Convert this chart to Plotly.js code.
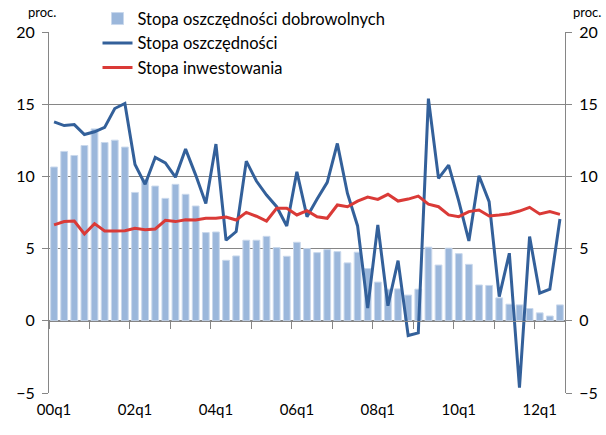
<!DOCTYPE html>
<html>
<head>
<meta charset="utf-8">
<script src="https://cdn.plot.ly/plotly-3.0.1.min.js"></script>
<style>html,body{margin:0;padding:0;background:#fff;}#chart{width:606px;height:435px;}</style>
</head>
<body>
<div id="chart"></div>
<script>
// 2000q1 .. 2012q3 (51 quarters)
const quarters = [];
for (let y = 0; y < 13; y++) for (let q = 1; q <= 4; q++) quarters.push((y < 10 ? '0' + y : '' + y) + 'q' + q);
quarters.length = 51;

const tickLabels = ['00q1','02q1','04q1','06q1','08q1','10q1','12q1'];

const voluntarySavings = [10.65,11.73,11.45,12.14,13.29,12.35,12.51,12.03,8.89,9.8,
  9.33,8.48,9.45,8.76,7.95,6.11,6.15,4.19,4.49,5.58,
  5.58,5.85,5.07,4.47,5.44,5.0,4.72,4.93,4.79,4.01,
  4.75,3.62,2.68,2.19,2.21,1.78,2.19,5.1,3.86,5.03,
  4.65,3.91,2.48,2.45,1.59,1.15,1.1,0.85,0.55,0.33,1.1];

const savings = [13.78,13.52,13.59,12.9,13.09,13.39,14.7,15.05,10.83,9.45,
  11.31,10.94,9.95,11.89,10.09,8.13,12.24,5.58,6.18,11.06,
  9.68,8.71,7.9,6.57,10.32,7.21,8.43,9.59,12.28,8.82,
  6.57,0.88,6.64,1.04,4.17,-1.02,-0.84,15.39,9.86,10.78,
  8.29,5.53,10.05,8.25,1.68,4.68,-4.63,5.83,1.91,2.19,7.05];

const investment = [6.64,6.87,6.91,6.01,6.73,6.22,6.22,6.24,6.41,6.31,
  6.36,6.96,6.87,7.0,6.98,7.1,7.1,7.19,6.98,7.51,
  7.24,6.91,7.79,7.79,7.33,7.63,7.21,7.1,8.02,7.9,
  8.29,8.57,8.41,8.76,8.29,8.43,8.63,8.08,7.9,7.33,
  7.21,7.56,7.67,7.26,7.33,7.42,7.6,7.86,7.4,7.56,7.37];

const idx = quarters.map((_, i) => i);
const tickIdx = tickLabels.map(l => quarters.indexOf(l));
const boundaryTicks = [];
for (let b = -0.5; b <= 50.5; b += 4) boundaryTicks.push(b);

const FONT = 'Lato, "Open Sans", sans-serif';
const GRID = '#868686';

const traces = [
  {type:'bar', x: idx, y: voluntarySavings, name:'Stopa oszczędności dobrowolnych',
   marker:{color:'#9BB7DB', line:{color:'#C9D8EC', width:1}}, xaxis:'x', yaxis:'y'},
  {type:'scatter', mode:'lines', x: idx, y: savings, name:'Stopa oszczędności',
   line:{color:'#33609A', width:3}, xaxis:'x2', yaxis:'y'},
  {type:'scatter', mode:'lines', x: idx, y: investment, name:'Stopa inwestowania',
   line:{color:'#DA3A37', width:3}, xaxis:'x2', yaxis:'y2'}
];

const layout = {
  width:606, height:435,
  margin:{l:49, r:41, t:32, b:42, autoexpand:false},
  paper_bgcolor:'#fff', plot_bgcolor:'rgba(0,0,0,0)',
  font:{family:FONT, size:15, color:'#000'},
  showlegend:true,
  bargap:0.33,
  legend:{x:0.094, xanchor:'left', y:1.085, yanchor:'top', bgcolor:'rgba(0,0,0,0)',
          font:{family:FONT, size:16.5, color:'#000'}, tracegroupgap:0, itemwidth:30},
  xaxis:{range:[-0.5,50.5], tickmode:'array', tickvals:tickIdx, ticktext:tickLabels,
         ticks:'', showgrid:false, zeroline:false, showline:false, ticklabelstandoff:6,
         tickfont:{family:FONT, size:15}},
  xaxis2:{overlaying:'x', anchor:'free', position:0.2, range:[-0.5,50.5],
          tickmode:'array', tickvals:boundaryTicks, ticks:'outside', ticklen:7, tickcolor:GRID,
          showticklabels:false, showgrid:false, zeroline:false, showline:true, linecolor:GRID, linewidth:1},
  yaxis:{range:[-5,20], dtick:5, tick0:0, showgrid:true, gridcolor:GRID, gridwidth:1,
         zeroline:false, showline:true, linecolor:GRID, ticks:'outside', ticklen:6, tickcolor:GRID,
         tickfont:{family:FONT, size:16}, ticklabelstandoff:4},
  yaxis2:{overlaying:'y', side:'right', anchor:'x2', range:[-5,20], dtick:5, tick0:0,
          showgrid:false, zeroline:false, showline:true, linecolor:GRID, ticks:'outside', ticklen:6,
          tickcolor:GRID, tickfont:{family:FONT, size:16}, ticklabelstandoff:4},
  annotations:[
    {text:'proc.', xref:'paper', yref:'paper', x:-0.045, y:1.055, xanchor:'left', yanchor:'middle',
     showarrow:false, font:{family:FONT, size:13}},
    {text:'proc.', xref:'paper', yref:'paper', x:1.0116, y:1.055, xanchor:'left', yanchor:'middle',
     showarrow:false, font:{family:FONT, size:13}}
  ]
};

Plotly.newPlot('chart', traces, layout, {staticPlot:true, displayModeBar:false});
</script>
</body>
</html>
